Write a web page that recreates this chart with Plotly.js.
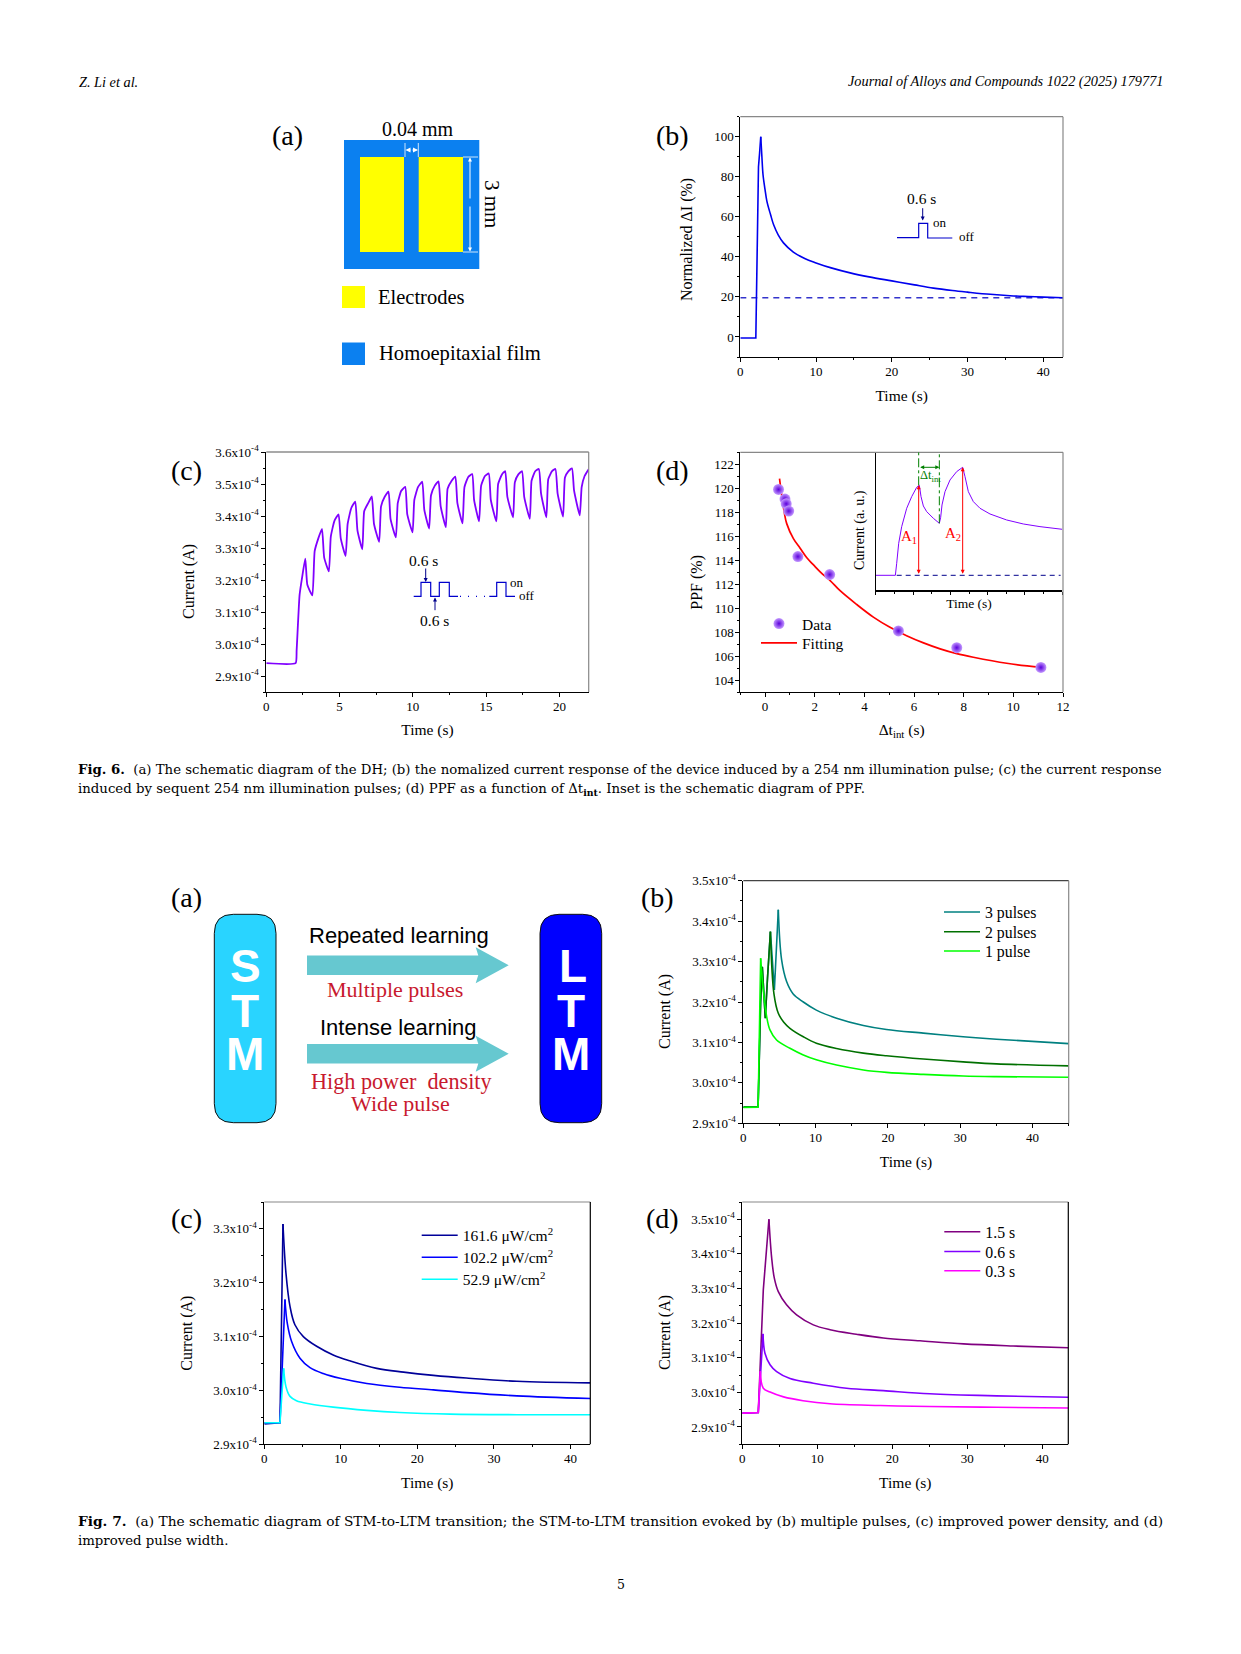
<!DOCTYPE html>
<html><head><meta charset="utf-8">
<script src="https://cdn.plot.ly/plotly-3.0.1.min.js"></script>
<style>html,body{margin:0;padding:0;background:#fff}</style></head>
<body><div id="chart" style="width:1241px;height:1654px"></div>
<script>
// ---------- Fig. 6 data ----------
const fig6bTime = [0,2,2.05,2.25,2.4,2.55,2.7,2.85,3,3.25,3.5,4,4.4,5,5.7,7,8.5,10,12,14.5,17,20,23,25.5,28,30,33,35.6,38,40,42.6];
const fig6bDelta = [-0.5,-0.5,-0.5,48,85,92,100,90,81,74,68,61,56,51,47,42.4,39.2,37,34.5,32,30,28,26,24.4,23.2,22.4,21.3,20.6,20.2,19.9,19.6];
const fig6bRefTime = [0,42.6];
const fig6bRefDelta = [19.6,19.6];

const fig6cTime = [0,2,2.07,2.27,2.45,2.66,2.8,3.14,3.3,3.55,3.8,3.95,4.27,4.4,4.65,4.93,5.08,5.41,5.55,5.8,6.07,6.22,6.55,6.68,6.95,7.2,7.35,7.7,7.83,8.08,8.34,8.48,8.84,8.97,9.2,9.48,9.62,9.98,10.1,10.35,10.64,10.78,11.11,11.24,11.5,11.75,11.9,12.25,12.37,12.65,12.9,13.04,13.39,13.52,13.78,14.05,14.18,14.52,14.66,14.92,15.18,15.32,15.7,15.82,16.08,16.3,16.45,16.84,16.96,17.2,17.45,17.6,17.98,18.1,18.35,18.6,18.75,19.11,19.24,19.5,19.73,19.88,20.25,20.38,20.62,20.86,21,21.39,21.52,21.72,22];
const fig6cCurrent = [2.94,2.94,2.98,3.153,3.21,3.267,3.185,3.152,3.29,3.33,3.36,3.27,3.227,3.335,3.385,3.405,3.33,3.275,3.375,3.425,3.445,3.355,3.296,3.415,3.44,3.461,3.375,3.319,3.43,3.46,3.476,3.39,3.333,3.44,3.478,3.491,3.405,3.349,3.45,3.49,3.507,3.42,3.361,3.465,3.495,3.508,3.43,3.365,3.485,3.51,3.523,3.44,3.377,3.49,3.522,3.531,3.45,3.383,3.495,3.525,3.533,3.45,3.383,3.5,3.53,3.54,3.46,3.396,3.505,3.53,3.54,3.46,3.391,3.51,3.54,3.547,3.47,3.396,3.515,3.54,3.547,3.47,3.398,3.52,3.54,3.549,3.48,3.402,3.49,3.525,3.546];

const fig6dInterval = [0.54,0.8,0.85,0.95,1.32,2.6,5.37,7.72,11.11];
const fig6dPPF = [119.9,119.1,118.7,118.1,114.3,112.8,108.1,106.7,105.05];
const fig6dFitInterval = [0.58,0.67,0.77,0.87,1.14,1.41,1.68,1.95,2.28,2.62,3.02,3.69,4.36,5.03,5.7,6.38,7.05,7.72,8.39,9.73,11.11];
const fig6dFitPPF = [120.8,119.4,118,117.05,115.8,115,114.2,113.6,112.9,112.3,111.45,110.3,109.25,108.4,107.7,107.1,106.6,106.2,105.9,105.4,105.05];

const insetTime = [0,59,63,69,78,93,108,123,131,136,143,153,173,191,195,199,208,223,243,261,268,278,293,313,343,393,443,493,560];
const insetCurrent = [45,45,81,141,191,246,281,309,315,281,253,236,216,201,219,256,296,331,356,369,341,296,266,246,229,211,199,191,183];

// ---------- Fig. 7 data ----------
const pulse3Time = [0,2,2.05,2.4,2.63,3.04,3.35,3.75,4.3,4.84,5.3,6,6.9,8.3,10.1,12.9,16.6,19.8,24.9,30.4,35,45];
const pulse3Current = [2.94,2.94,2.942,3.2,3.287,3.16,3.26,3.374,3.23,3.428,3.304,3.25,3.22,3.2,3.18,3.16,3.142,3.132,3.123,3.114,3.108,3.097];
const pulse2Time = [0,2,2.05,2.4,2.63,3.04,3.35,3.75,4.24,4.84,5.6,6.45,8.3,10.1,12.9,16.6,19.8,24.9,30.4,35,45];
const pulse2Current = [2.94,2.94,2.942,3.2,3.287,3.16,3.26,3.374,3.22,3.172,3.15,3.135,3.114,3.098,3.085,3.0735,3.067,3.059,3.052,3.047,3.042];
const pulse1Time = [0,2,2.05,2.4,2.76,3.23,3.69,4.6,6.45,8.3,10.1,12.9,16.6,19.8,24.9,30.4,35,45];
const pulse1Current = [2.939,2.94,2.942,3.308,3.23,3.164,3.131,3.106,3.0855,3.069,3.057,3.044,3.032,3.026,3.021,3.017,3.0154,3.0138];

const p161Time = [0,2,2.05,2.44,2.83,3.36,4,5.1,6.84,9,11.2,14.7,18.2,22.1,26.4,33,42.6];
const p161Current = [2.938,2.94,2.94,3.309,3.218,3.156,3.122,3.1,3.082,3.066,3.055,3.041,3.034,3.028,3.023,3.017,3.014];
const p102Time = [0,2,2.05,2.7,3,3.57,4.66,5.97,7.7,9.9,13.4,17.7,22.1,26.4,33,42.6];
const p102Current = [2.94,2.94,2.94,3.169,3.125,3.091,3.06,3.0425,3.0315,3.0225,3.013,3.006,3.001,2.996,2.99,2.985];
const p52Time = [0,2,2.05,2.53,2.83,3.36,4.2,6,9,13.4,17.7,24.3,33,42.6];
const p52Current = [2.94,2.94,2.94,3.041,3.007,2.989,2.981,2.975,2.969,2.963,2.959,2.956,2.955,2.955];

const w15Time = [0,2,2.13,2.8,3.55,3.9,4.27,4.8,5.9,7.24,9.47,11.7,15.2,18.8,23.7,29.5,36.1,43.47];
const w15Current = [2.94,2.94,2.942,3.296,3.5,3.392,3.33,3.291,3.253,3.224,3.195,3.181,3.168,3.157,3.149,3.14,3.134,3.129];
const w06Time = [0,2,2.13,2.76,3.02,3.7,4.58,6.36,9.47,13.9,18.8,25,33.9,43.47];
const w06Current = [2.94,2.94,2.942,3.169,3.113,3.08,3.06,3.04,3.0265,3.012,3.005,2.996,2.99,2.986];
const w03Time = [0,2,2.13,2.4,2.8,3.7,5.5,8.1,11.7,18.4,25,33.9,43.47];
const w03Current = [2.94,2.94,2.942,3.061,3.012,3.001,2.987,2.976,2.967,2.962,2.959,2.957,2.955];

// ---------- tick labels ----------
const sup = '<sup>-4</sup>';
const tick6c = [2.9,3.0,3.1,3.2,3.3,3.4,3.5,3.6];
const tick7b = [2.9,3.0,3.1,3.2,3.3,3.4,3.5];
const tick7c = [2.9,3.0,3.1,3.2,3.3];
const tickText = v => v.map(t => t.toFixed(1)+'x10'+sup);
const minors = (a,b) => { const o=[]; for(let i=Math.round(a*100);i<=Math.round(b*100);i+=10) o.push((i+5)/100); return o; };

// ---------- page helpers ----------
const W=1241,H=1654, SERIF='Liberation Serif', SANS='Liberation Sans';
const px = x=>x/W, py = y=>1-y/H;
const annotations=[], shapes=[];
function txt(text,x,y,size,o={}){ annotations.push(Object.assign({text,x:px(x),y:py(y),xref:'paper',yref:'paper',showarrow:false,xanchor:o.anchor||'center',yanchor:'middle',
  font:{family:o.family||SERIF,size,color:o.color||'#000'}},o.extra||{})); }
function ytitle(text,x,y,size){ txt(text,x,y,size,{extra:{textangle:-90}}); }
function arrow(x0,y0,x1,y1,color,size){ annotations.push({text:'',x:px(x1),y:py(y1),xref:'paper',yref:'paper',showarrow:true,ax:x0-x1,ay:y0-y1,axref:'pixel',ayref:'pixel',arrowhead:2,arrowsize:size||1,arrowwidth:1,arrowcolor:color,standoff:0}); }
function poly(points,line,fill,close){ shapes.push({type:'path',xref:'paper',yref:'paper',path:'M'+points.map(p=>px(p[0])+','+py(p[1])).join('L')+(close?'Z':''),line:line||{width:0},fillcolor:fill||'rgba(0,0,0,0)'}); }
function rect(x0,y0,x1,y1,fill,line){ shapes.push({type:'rect',xref:'paper',yref:'paper',x0:px(x0),x1:px(x1),y0:py(y1),y1:py(y0),fillcolor:fill,line:line||{width:0}}); }
function seg(x0,y0,x1,y1,color,width,dash){ shapes.push({type:'line',xref:'paper',yref:'paper',x0:px(x0),x1:px(x1),y0:py(y0),y1:py(y1),line:{color,width:width||1,dash:dash||'solid'}}); }

const layout={width:W,height:H,margin:{l:0,r:0,t:0,b:0,autoexpand:false},paper_bgcolor:'#fff',plot_bgcolor:'rgba(0,0,0,0)',
  showlegend:true,font:{family:SERIF,color:'#000',size:13},annotations,shapes,hovermode:false};
const data=[];

function panel(n,box,xo,yo,borders){
  const [l,r,t,b]=box;
  const base={showline:true,linecolor:'#000',linewidth:1,ticks:'outside',ticklen:4,tickwidth:1,tickcolor:'#000',showgrid:false,zeroline:false,tickfont:{family:SERIF,size:13,color:'#000'},automargin:false};
  const id=n===1?'':n;
  const mn={ticks:'outside',ticklen:2,tickcolor:'#000',showgrid:false};
  layout['xaxis'+id]=Object.assign({},base,{domain:[px(l),px(r)],anchor:'y'+id,ticklabelstandoff:-2},xo,{minor:Object.assign({},mn,xo.minor)});
  layout['yaxis'+id]=Object.assign({},base,{domain:[py(b),py(t)],anchor:'x'+id},yo,{minor:Object.assign({},mn,yo.minor)});
  if(borders){ seg(l,t,r,t,borders[0],1.2); seg(r,t,r,b,borders[1],1.2); }
}
const tAxis=(t,s)=>({text:t,font:{family:SERIF,size:15.5,color:'#000'},standoff:s});
function legendAt(name,x,y,size,item){ layout[name]={x:px(x-5),y:py(y),xanchor:'left',yanchor:'middle',xref:'paper',yref:'paper',bgcolor:'rgba(0,0,0,0)',borderwidth:0,itemwidth:item||36,font:{family:SERIF,size:size,color:'#000'}}; }
function line(n,x,y,color,width,extra){ const id=n===1?'':n; data.push(Object.assign({type:'scatter',mode:'lines',x,y,xaxis:'x'+id,yaxis:'y'+id,line:{color,width:width||1.4},showlegend:false,hoverinfo:'skip'},extra||{})); }
// sharp rise up to the highest peak, then a smooth decay drawn from the same arrays
function curve(n,x,y,color,name,legend,width){
  const k=y.indexOf(Math.max(...y)), w=width||1.6;
  line(n,x.slice(0,k+1),y.slice(0,k+1),color,w);
  const extra=name?{name,showlegend:true,legend}:{};
  line(n,x.slice(k),y.slice(k),color,w,Object.assign({line:{color,width:w,shape:'spline',smoothing:1}},extra));
}

// ---------- header / captions ----------
txt('<i>Z. Li et al.</i>',77,81.5,14.3,{anchor:'left'});
txt('<i>Journal of Alloys and Compounds 1022 (2025) 179771</i>',1165,81.5,14.3,{anchor:'right'});
function cap(text,y,size){ txt(text,76,y,size,{anchor:'left',family:'DejaVu Serif'}); }
cap('<b>Fig. 6.</b>  (a) The schematic diagram of the DH; (b) the nomalized current response of the device induced by a 254 nm illumination pulse; (c) the current response',769.5,13.28);
cap('induced by sequent 254 nm illumination pulses; (d) PPF as a function of Δt<sub><b>int</b></sub>. Inset is the schematic diagram of PPF.',789.5,13.3);
cap('<b>Fig. 7.</b>  (a) The schematic diagram of STM-to-LTM transition; the STM-to-LTM transition evoked by (b) multiple pulses, (c) improved power density, and (d)',1520.5,13.74);
cap('improved pulse width.',1540.5,13.3);
txt('5',621,1584,12.5,{family:'DejaVu Serif'});

// ---------- Fig 6(a) schematic ----------
txt('(a)',287,135,28);
txt('0.04 mm',418,129,20);
rect(344,140,479.3,269,'#0b80f0');
rect(360,157,404,252,'#ffff00');
rect(418.7,157,463,252,'#ffff00');
seg(405,143,405,157,'#fff',0.8); seg(418.3,143,418.3,157,'#fff',0.8);
seg(463,157,478,157,'#fff',0.8); seg(463,252,478,252,'#fff',0.8);
arrow(412,150,405.5,150,'#fff',1); arrow(411,150,418,150,'#fff',1);
arrow(470,200,470,157.5,'#fff',0.8); arrow(470,205,470,251.5,'#fff',0.8);
txt('3 mm',492,204,21,{extra:{textangle:90}});
rect(342,286,365,308,'#ffff00');
rect(342,342.5,365,365,'#0b80f0');
txt('Electrodes',376,297,20.5,{anchor:'left'});
txt('Homoepitaxial film',377,353,20.6,{anchor:'left'});

// ---------- Fig 6(b) ----------
panel(1,[740.3,1063,116.7,357],{range:[0,42.6],dtick:10,tick0:0,minor:{dtick:5},title:tAxis('Time (s)',12.5)},{range:[-10,110],dtick:20,tick0:0,ticklabelstandoff:-1,minor:{dtick:10}},['#888','#888']);
line(1,fig6bRefTime,fig6bRefDelta,'#3333cc',1.3,{line:{color:'#3333cc',width:1.3,dash:'6px,5px'}});
curve(1,fig6bTime,fig6bDelta,'#0000ee');
ytitle('Normalized ΔI (%)',687,240,16);
txt('(b)',672.7,135,28);
txt('0.6 s',921,198.7,15.5);
arrow(922.7,206.7,922.7,220.5,'#00008b',0.8);
poly([[897,237.7],[918.7,237.7],[918.7,223.3],[927.7,223.3],[927.7,238],[952.3,238]],{color:'#0000cc',width:1.2});
txt('on',940,222,13); txt('off',966.7,236.7,13);

// ---------- Fig 6(c) ----------
panel(2,[266.3,588.7,452,692],{range:[0,22],dtick:5,tick0:0,minor:{dtick:2.5},title:tAxis('Time (s)',11)},{range:[2.85,3.6],tickmode:'array',tickvals:tick6c,ticktext:tickText(tick6c),minor:{tickmode:'array',tickvals:minors(2.8,3.5)}},['#555','#888']);
line(2,fig6cTime,fig6cCurrent,'#8000ff',1.8,{line:{color:'#8000ff',width:1.8,shape:'spline',smoothing:0.45}});
ytitle('Current (A)',189,582,16);
txt('(c)',186.7,470,28);
txt('0.6 s',423.7,560.7,15.5); txt('0.6 s',434.3,620.7,15.5);
arrow(425.7,567,425.7,582,'#00008b',0.8); arrow(435,611.7,435,597.5,'#00008b',0.8);
poly([[413.7,596.3],[421,596.3],[421,582.3],[430.7,582.3],[430.7,596.3],[439.3,596.3],[439.3,582.3],[449.3,582.3],[449.3,596.3],[458,596.3]],{color:'#0000cc',width:1.2});
seg(460,596.3,488,596.3,'#0000cc',1.2,'1px,7px');
poly([[489.3,596.3],[496.7,596.3],[496.7,582.3],[506,582.3],[506,596.3],[515,596.3]],{color:'#0000cc',width:1.2});
txt('on',517,582.3,13); txt('off',526.7,595.7,13);

// ---------- Fig 6(d) ----------
panel(3,[740.3,1063,452.3,692],{range:[-1,12],dtick:2,tick0:0,minor:{dtick:1},title:tAxis('Δt<sub>int</sub> (s)',11)},{range:[103,123],dtick:2,tick0:104,ticklabelstandoff:-1,minor:{dtick:1}},['#888','#888']);
legendAt('legend',761,624,15.5); legendAt('legend2',761,643.3,15.5);
line(3,fig6dFitInterval,fig6dFitPPF,'#ff0000',1.7,{name:'Fitting',showlegend:true,legend:'legend2',line:{color:'#ff0000',width:1.7,shape:'spline',smoothing:1}});
data.push({type:'scatter',mode:'markers',x:fig6dInterval,y:fig6dPPF,xaxis:'x3',yaxis:'y3',name:'Data',showlegend:true,legend:'legend',hoverinfo:'skip',
  marker:{size:11,color:'#c49aff',gradient:{type:'radial',color:'#5c00dc'},line:{width:0}}});
ytitle('PPF (%)',696.7,582,16);
txt('(d)',672.7,470,28);

// inset of (d)
layout.xaxis4={domain:[px(875.7),px(1062.3)],range:[0,560],anchor:'y4',showline:true,linecolor:'#000',linewidth:1.2,ticks:'outside',ticklen:3,tickcolor:'#000',dtick:112,tick0:0,showticklabels:false,showgrid:false,zeroline:false,
  minor:{ticks:'outside',ticklen:2,dtick:56,tickcolor:'#000',showgrid:false},title:{text:'Time (s)',font:{family:SERIF,size:13.5,color:'#000'},standoff:5}};
layout.yaxis4={domain:[py(590.3),py(452.3)],range:[0,414],anchor:'x4',showline:true,linecolor:'#000',linewidth:1.2,ticks:'',showticklabels:false,showgrid:false,zeroline:false};
const insetBase=[45,45], insetBaseT=[63,555];
line(4,insetBaseT,insetBase,'#00008b',1,{line:{color:'#00008b',width:1,dash:'5px,4px'}});
line(4,insetTime,insetCurrent,'#8000ff',1);
ytitle('Current (a. u.)',860,530,14);
const iref={xref:'x4',yref:'y4',axref:'x4',ayref:'y4',showarrow:true,text:'',arrowside:'end+start',arrowsize:0.8,arrowwidth:1,arrowhead:2,startarrowhead:2,startarrowsize:0.8};
annotations.push(Object.assign({},iref,{x:129,y:315,ax:129,ay:45,arrowcolor:'#ff0000'}));
annotations.push(Object.assign({},iref,{x:261,y:369,ax:261,ay:45,arrowcolor:'#ff0000'}));
annotations.push(Object.assign({},iref,{x:191,y:369,ax:129,ay:369,arrowcolor:'#008000'}));
shapes.push({type:'line',xref:'x4',yref:'y4',x0:129,x1:129,y0:315,y1:414,line:{color:'#008000',width:1,dash:'dashdot'}});
shapes.push({type:'line',xref:'x4',yref:'y4',x0:191,x1:191,y0:201,y1:414,line:{color:'#008000',width:1,dash:'dashdot'}});
txt('Δt<sub>int</sub>',930,476,12.5,{color:'#008000'});
txt('A<sub>1</sub>',909,537.5,15,{color:'#ff0000'});
txt('A<sub>2</sub>',953,533.5,15,{color:'#ff0000'});

// ---------- Fig 7(a) schematic ----------
txt('(a)',186.7,898,28);
function round(x0,y0,x1,y1,r,fill){
  const X=v=>px(v),Y=v=>py(v);
  shapes.push({type:'path',xref:'paper',yref:'paper',fillcolor:fill,line:{color:'#111',width:1},
   path:`M${X(x0+r)},${Y(y0)}L${X(x1-r)},${Y(y0)}Q${X(x1)},${Y(y0)} ${X(x1)},${Y(y0+r)}L${X(x1)},${Y(y1-r)}Q${X(x1)},${Y(y1)} ${X(x1-r)},${Y(y1)}L${X(x0+r)},${Y(y1)}Q${X(x0)},${Y(y1)} ${X(x0)},${Y(y1-r)}L${X(x0)},${Y(y0+r)}Q${X(x0)},${Y(y0)} ${X(x0+r)},${Y(y0)}Z`});
}
round(214.3,914.3,276,1122.7,19,'#29d4ff');
round(540,914.3,601.7,1122.7,19,'#0000ff');
[['S',245,965.7],['T',245,1010.7],['M',245,1054.3],['L',572.7,965.7],['T',571.3,1010.7],['M',571,1054.3]].forEach(a=>txt('<b>'+a[0]+'</b>',a[1],a[2],46,{family:SANS,color:'#fff'}));
function bigArrow(ym){
  poly([[307,ym-9.7],[478.3,ym-9.7],[475.7,ym-18],[508.7,ym],[475.7,ym+18],[478.3,ym+9.7],[307,ym+9.7]],{width:0},'#66c8d0',true);
}
bigArrow(965.3); bigArrow(1053.7);
txt('Repeated learning',398.7,935.7,22,{family:SANS});
txt('Intense learning',398.7,1027.7,22,{family:SANS});
txt('Multiple pulses',395,990,22,{color:'#c8192e'});
txt('High power  density',401.7,1081,22.2,{color:'#c8192e'});
txt('Wide pulse',400,1103,22,{color:'#c8192e'});

// ---------- Fig 7(b) ----------
panel(5,[743.3,1068.7,880.7,1123.3],{range:[0,45],dtick:10,tick0:0,minor:{dtick:5},title:tAxis('Time (s)',11.5)},{range:[2.9,3.5],tickmode:'array',tickvals:tick7b,ticktext:tickText(tick7b),minor:{tickmode:'array',tickvals:minors(2.9,3.4)}},['#444','#888']);
legendAt('legend3',944,912.3,15.8); legendAt('legend4',944,932,15.8); legendAt('legend5',944,951.3,15.8);
curve(5,pulse3Time,pulse3Current,'#008080','3 pulses','legend3');
curve(5,pulse2Time,pulse2Current,'#007000','2 pulses','legend4');
curve(5,pulse1Time,pulse1Current,'#00ff00','1 pulse','legend5');
ytitle('Current (A)',665,1012,16);
txt('(b)',657.3,898,28);

// ---------- Fig 7(c) ----------
panel(6,[264.3,590.3,1202,1444.3],{range:[0,42.6],dtick:10,tick0:0,minor:{dtick:5},title:tAxis('Time (s)',12)},{range:[2.9,3.35],tickmode:'array',tickvals:tick7c,ticktext:tickText(tick7c),minor:{tickmode:'array',tickvals:minors(2.9,3.3)}},['#888','#000']);
legendAt('legend6',421.7,1235.7,15.5); legendAt('legend7',421.7,1257.7,15.5); legendAt('legend8',421.7,1279.7,15.5);
curve(6,p161Time,p161Current,'#000099','161.6 μW/cm<sup>2</sup>','legend6');
curve(6,p102Time,p102Current,'#0000ff','102.2 μW/cm<sup>2</sup>','legend7');
curve(6,p52Time,p52Current,'#00ffff','52.9 μW/cm<sup>2</sup>','legend8');
ytitle('Current (A)',186.7,1333,16);
txt('(c)',186.7,1218,28);

// ---------- Fig 7(d) ----------
panel(7,[742.3,1068.3,1202,1444.3],{range:[0,43.47],dtick:10,tick0:0,minor:{dtick:5},title:tAxis('Time (s)',12)},{range:[2.85,3.55],tickmode:'array',tickvals:tick7b,ticktext:tickText(tick7b),minor:{tickmode:'array',tickvals:minors(2.8,3.5)}},['#888','#000']);
legendAt('legend9',944.3,1232,15.8); legendAt('legend10',944.3,1251.7,15.8); legendAt('legend11',944.3,1271,15.8);
curve(7,w15Time,w15Current,'#800080','1.5 s','legend9');
curve(7,w06Time,w06Current,'#8000ff','0.6 s','legend10');
curve(7,w03Time,w03Current,'#ff00ff','0.3 s','legend11');
ytitle('Current (A)',665,1333,16);
txt('(d)',662.7,1218,28);

Plotly.newPlot('chart',data,layout,{displayModeBar:false,staticPlot:true});
</script></body></html>
